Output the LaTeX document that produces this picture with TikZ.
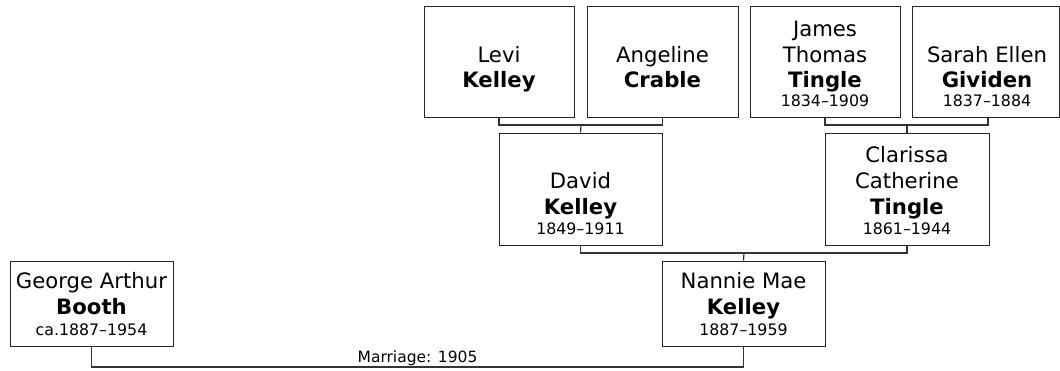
\documentclass[tikz,border=0pt]{standalone}
\usepackage{fontspec}
\setmainfont{DejaVu Sans}
\usetikzlibrary{calc}
\newcommand\nmline[4]{\node[nametext] (#1) at (#2,#3) {#4};}
\newcommand\dtline[4]{\node[datetext] (#1) at (#2,#3) {#4};}
\begin{document}
\begin{tikzpicture}[x=1pt,y=-1pt,
  person/.style={draw=black!85, line width=1pt, fill=white, inner sep=0pt},
  nametext/.style={anchor=base, inner sep=0pt, font=\fontsize{21.2}{25}\selectfont},
  datetext/.style={anchor=base, inner sep=0pt, font=\fontsize{15.8}{19}\selectfont},
  conn/.style={draw=black!80, line width=1.2pt},
  lbl/.style={font=\fontsize{15.5}{18}\selectfont, anchor=base, inner sep=0pt}
]
\useasboundingbox[fill=white] (0,0) rectangle (1060,370);

% generation 1 boxes
\node[person, minimum width=150pt, minimum height=111pt] (levi) at (499,61.5) {};
\node[person, minimum width=151pt, minimum height=111pt] (angeline) at (662.5,61.5) {};
\node[person, minimum width=150pt, minimum height=111pt] (james) at (825,61.5) {};
\node[person, minimum width=147pt, minimum height=111pt] (sarah) at (985.5,61.5) {};
% generation 2 boxes
\node[person, minimum width=163pt, minimum height=112pt] (david) at (580.5,189) {};
\node[person, minimum width=164pt, minimum height=112pt] (clarissa) at (907,189) {};
% generation 3 boxes
\node[person, minimum width=163pt, minimum height=85pt] (george) at (91.5,303.5) {};
\node[person, minimum width=163pt, minimum height=85pt] (nannie) at (743.5,303.5) {};

% texts
\nmline{levi1}{499}{62}{Levi}
\nmline{levi2}{499}{87}{\textbf{Kelley}}
\nmline{ang1}{662.5}{62}{Angeline}
\nmline{ang2}{662.5}{87}{\textbf{Crable}}
\nmline{jam1}{825}{36}{James}
\nmline{jam2}{825}{62}{Thomas}
\nmline{jam3}{825}{87}{\textbf{Tingle}}
\dtline{jam4}{825}{106}{1834--1909}
\nmline{sar1}{987}{62}{Sarah Ellen}
\nmline{sar2}{987}{87}{\textbf{Gividen}}
\dtline{sar3}{987}{106}{1837--1884}

\nmline{dav1}{580.5}{188}{David}
\nmline{dav2}{580.5}{214}{\textbf{Kelley}}
\dtline{dav3}{580.5}{234}{1849--1911}
\nmline{cla1}{907}{162}{Clarissa}
\nmline{cla2}{907}{188}{Catherine}
\nmline{cla3}{907}{214}{\textbf{Tingle}}
\dtline{cla4}{907}{234}{1861--1944}

\nmline{geo1}{91.5}{288}{George Arthur}
\nmline{geo2}{91.5}{314}{\textbf{Booth}}
\dtline{geo3}{91.5}{335}{ca.1887--1954}
\nmline{nan1}{743.5}{288}{Nannie Mae}
\nmline{nan2}{743.5}{314}{\textbf{Kelley}}
\dtline{nan3}{743.5}{335}{1887--1959}

% junctions
\coordinate (c1) at (581,125);
\coordinate (c2) at (907,125);
\coordinate (c3) at (744,253);
\coordinate (m) at (417.5,367);

\draw[conn] (levi.south) |- (c1) -| (angeline.south);
\draw[conn] (c1) -- (david.north);
\draw[conn] (james.south) |- (c2) -| ([xshift=2.5pt]sarah.south);
\draw[conn] (c2) -- (clarissa.north);
\draw[conn] (david.south) |- (c3) -| (clarissa.south);
\draw[conn] (c3) -- (nannie.north);
\draw[conn] (george.south) |- (m) -| (nannie.south);
\node[lbl] (mlabel) at (417.5,362) {Marriage: 1905};
\end{tikzpicture}
\end{document}
